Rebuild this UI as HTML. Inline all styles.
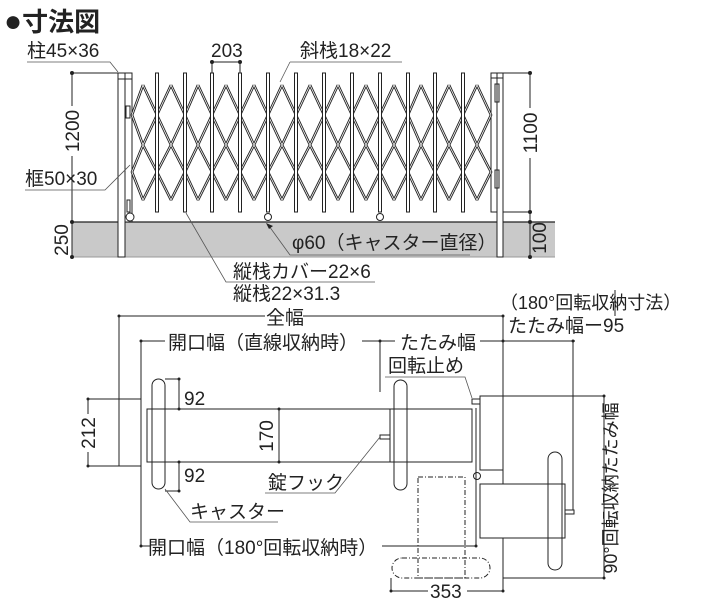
<!DOCTYPE html>
<html><head><meta charset="utf-8"><style>
body{margin:0;background:#fff}
svg{display:block}
text{font-family:"Liberation Sans","Noto Sans CJK JP",sans-serif;fill:#222;font-size:19px}
</style></head><body>
<svg width="720" height="607" viewBox="0 0 720 607" xmlns="http://www.w3.org/2000/svg">
<text x="4" y="31" style="font-size:26px;font-weight:bold"><tspan style="font-size:30px">●</tspan>寸法図</text>
<rect x="72" y="222" width="483" height="35" fill="#c9c9c9"/>
<line x1="72" y1="222" x2="555" y2="222" stroke="#222" stroke-width="1.2"/>
<line x1="72" y1="257" x2="555" y2="257" stroke="#999" stroke-width="1"/>
<g stroke="#222" fill="none" stroke-width="1">
<rect x="118" y="73" width="7" height="184" fill="#fff"/>
<rect x="125" y="73" width="7" height="149" fill="#fff"/>
<line x1="118" y1="79" x2="132" y2="79"/>
<rect x="126" y="106" width="4" height="12" fill="#fff"/>
<rect x="127" y="200" width="3" height="12"/>
<circle cx="130" cy="217" r="4" fill="#fff"/>
<rect x="491" y="73" width="6" height="139" fill="#fff"/>
<rect x="497" y="73" width="6" height="184" fill="#fff"/>
<line x1="491" y1="78" x2="503" y2="78"/>
<rect x="495" y="84" width="4" height="18"/>
<rect x="495" y="170" width="4" height="18"/>
</g>
<g stroke="#222" fill="none" stroke-width="2.6">
<path id="lat" d="M143,85 L132,115 L143,145 L132,172 L143,200 M143,85 L157,115 L143,145 L157,172 L143,200
M171,85 L157,115 L171,145 L157,172 L171,200 M171,85 L185,115 L171,145 L185,172 L171,200
M198,85 L185,115 L198,145 L185,172 L198,200 M198,85 L212,115 L198,145 L212,172 L198,200
M226,85 L212,115 L226,145 L212,172 L226,200 M226,85 L240,115 L226,145 L240,172 L226,200
M254,85 L240,115 L254,145 L240,172 L254,200 M254,85 L268,115 L254,145 L268,172 L254,200
M282,85 L268,115 L282,145 L268,172 L282,200 M282,85 L296,115 L282,145 L296,172 L282,200
M310,85 L296,115 L310,145 L296,172 L310,200 M310,85 L324,115 L310,145 L324,172 L310,200
M338,85 L324,115 L338,145 L324,172 L338,200 M338,85 L352,115 L338,145 L352,172 L338,200
M366,85 L352,115 L366,145 L352,172 L366,200 M366,85 L380,115 L366,145 L380,172 L366,200
M394,85 L380,115 L394,145 L380,172 L394,200 M394,85 L408,115 L394,145 L408,172 L394,200
M421,85 L408,115 L421,145 L408,172 L421,200 M421,85 L435,115 L421,145 L435,172 L421,200
M449,85 L435,115 L449,145 L435,172 L449,200 M449,85 L463,115 L449,145 L463,172 L449,200
M477,85 L463,115 L477,145 L463,172 L477,200 M477,85 L491,115 L477,145 L491,172 L477,200"/>
</g>
<use href="#lat" stroke="#fff" stroke-width="0.8" fill="none"/>
<g stroke="#222" fill="#fff" stroke-width="1">
<rect x="155.5" y="73" width="3" height="139"/><rect x="183.5" y="73" width="3" height="139"/>
<rect x="210.5" y="73" width="3" height="139"/><rect x="238.5" y="73" width="3" height="139"/>
<rect x="266.5" y="73" width="3" height="139"/><rect x="294.5" y="73" width="3" height="139"/>
<rect x="322.5" y="73" width="3" height="139"/><rect x="350.5" y="73" width="3" height="139"/>
<rect x="378.5" y="73" width="3" height="139"/><rect x="406.5" y="73" width="3" height="139"/>
<rect x="433.5" y="73" width="3" height="139"/><rect x="461.5" y="73" width="3" height="139"/>
<circle cx="268" cy="217" r="3.5"/><circle cx="380" cy="217" r="3.5"/>
</g>
<g stroke="#222" stroke-width="1" fill="#222">
<line x1="72" y1="73" x2="72" y2="106"/><line x1="72" y1="156" x2="72" y2="222"/>
<line x1="72" y1="73" x2="118" y2="73"/>
<line x1="72" y1="222" x2="72" y2="257"/>
<circle cx="72" cy="73" r="1.5"/><circle cx="72" cy="222" r="1.5"/><circle cx="72" cy="257" r="1.5"/>
<line x1="212" y1="62" x2="240" y2="62"/><line x1="212" y1="62" x2="212" y2="73"/><line x1="240" y1="62" x2="240" y2="73"/>
<circle cx="212" cy="62" r="1.5"/><circle cx="240" cy="62" r="1.5"/>
<line x1="503" y1="73" x2="530" y2="73"/><line x1="503" y1="212" x2="530" y2="212"/>
<line x1="530" y1="73" x2="530" y2="108"/><line x1="530" y1="158" x2="530" y2="257"/>
<circle cx="530" cy="73" r="1.5"/><circle cx="530" cy="212" r="1.5"/><circle cx="530" cy="222" r="1.5"/><circle cx="530" cy="257" r="1.5"/>
</g>
<g stroke="#555" stroke-width="0.8" fill="none">
<polyline points="27,62 110,62 118,72"/>
<polyline points="25,190 105,190 130,165"/>
<polyline points="290,62 402,62"/>
<path d="M290,62 L280,82"/>
<polyline points="186,213 226,282 375,282"/>
<polyline points="269,226 290,255 470,255"/>
</g>
<path d="M266,223 l7,3 -4,3z" fill="#222"/>
<text x="27" y="57">柱45×36</text>
<text x="211" y="57">203</text>
<text x="300" y="57">斜栈18×22</text>
<text x="25" y="185">框50×30</text>
<text x="292" y="249">φ60（キャスター直径）</text>
<text x="233" y="278">縦栈カバー22×6</text>
<text x="233" y="300">縦栈22×31.3</text>
<text transform="translate(79,131) rotate(-90)" text-anchor="middle">1200</text>
<text transform="translate(68,240) rotate(-90)" text-anchor="middle">250</text>
<text transform="translate(537,133) rotate(-90)" text-anchor="middle">1100</text>
<text transform="translate(546,238) rotate(-90)" text-anchor="middle">100</text>

<g stroke="#222" stroke-width="1" fill="none">
<line x1="119" y1="316" x2="265" y2="316"/><line x1="303" y1="316" x2="503" y2="316"/>
<line x1="119" y1="316" x2="119" y2="399"/>
<line x1="141" y1="341" x2="165" y2="341"/><line x1="362" y1="341" x2="380" y2="341"/>
<line x1="380" y1="341" x2="395" y2="341"/><line x1="480" y1="341" x2="575" y2="341"/>
<line x1="380" y1="341" x2="380" y2="392"/>
<line x1="141" y1="341" x2="141" y2="546"/>
<line x1="141" y1="546" x2="150" y2="546"/><line x1="382" y1="546" x2="476" y2="546"/>
<line x1="503" y1="316" x2="503" y2="396"/><line x1="503" y1="470" x2="503" y2="591"/>
<line x1="573" y1="341" x2="573" y2="510"/>
<line x1="615" y1="290" x2="615" y2="316"/>
<rect x="119" y="399" width="22" height="67"/>
<line x1="88" y1="399" x2="119" y2="399"/><line x1="88" y1="466" x2="119" y2="466"/>
<line x1="88" y1="399" x2="88" y2="414"/><line x1="88" y1="452" x2="88" y2="466"/>
<rect x="147" y="409" width="325" height="53" fill="#fff"/>
<rect x="152" y="379" width="13" height="110" rx="6.5"/>
<rect x="394" y="380" width="13" height="110" rx="6.5"/>
<line x1="390" y1="409" x2="390" y2="462"/>
<line x1="165" y1="379" x2="179" y2="379"/><line x1="165" y1="491" x2="179" y2="491"/>
<line x1="179" y1="379" x2="179" y2="409"/><line x1="179" y1="462" x2="179" y2="491"/>
<line x1="279" y1="409" x2="279" y2="462"/>
<rect x="380" y="435" width="10" height="4"/>
<rect x="480" y="396" width="23" height="74"/>
<rect x="472" y="399" width="8" height="5"/>
<line x1="476" y1="408" x2="476" y2="546"/>
<circle cx="477" cy="476" r="3.5"/>
<rect x="480" y="484" width="85" height="54" fill="#fff"/>
<rect x="548" y="452" width="14" height="118" rx="7"/>
<rect x="565" y="510" width="9" height="4"/>
<line x1="503" y1="396" x2="604" y2="396"/><line x1="503" y1="578" x2="604" y2="578"/>
<line x1="604" y1="396" x2="604" y2="578"/>
<g stroke-dasharray="5,2,1,2">
<rect x="418" y="477" width="47" height="101"/>
<rect x="392" y="558" width="98" height="20" rx="10"/>
</g>
<line x1="391" y1="578" x2="391" y2="591"/>
<line x1="391" y1="591" x2="428" y2="591"/><line x1="467" y1="591" x2="503" y2="591"/>
</g>
<g fill="#222">
<circle cx="119" cy="316" r="1.5"/><circle cx="503" cy="316" r="1.5"/><circle cx="141" cy="341" r="1.5"/>
<circle cx="380" cy="341" r="1.5"/><circle cx="503" cy="341" r="1.5"/><circle cx="573" cy="341" r="1.5"/>
<circle cx="141" cy="546" r="1.5"/><circle cx="476" cy="546" r="1.5"/>
<circle cx="88" cy="399" r="1.5"/><circle cx="88" cy="466" r="1.5"/>
<circle cx="179" cy="379" r="1.5"/><circle cx="179" cy="409" r="1.5"/><circle cx="179" cy="462" r="1.5"/><circle cx="179" cy="491" r="1.5"/>
<circle cx="279" cy="409" r="1.5"/><circle cx="279" cy="462" r="1.5"/>
<circle cx="604" cy="396" r="1.5"/><circle cx="604" cy="578" r="1.5"/>
<circle cx="391" cy="591" r="1.5"/><circle cx="503" cy="591" r="1.5"/>
</g>
<g stroke="#555" stroke-width="0.8" fill="none">
<polyline points="265,493 335,493 380,437"/>
<polyline points="165,489 190,522 278,522"/>
<polyline points="385,377 465,377 472,398"/>
</g>
<text x="266" y="324">全幅</text>
<text x="168" y="349">開口幅（直線収納時）</text>
<text x="400" y="349">たたみ幅</text>
<text x="388" y="372">回転止め</text>
<text x="500" y="309" style="font-size:18px">（180°回転収納寸法）</text>
<text x="508" y="332">たたみ幅ー95</text>
<text x="184" y="405">92</text>
<text x="184" y="482">92</text>
<text transform="translate(273,436) rotate(-90)" text-anchor="middle">170</text>
<text transform="translate(95,433) rotate(-90)" text-anchor="middle">212</text>
<text x="268" y="489">錠フック</text>
<text x="190" y="518">キャスター</text>
<text x="148" y="554">開口幅（180°回転収納時）</text>
<text x="430" y="598">353</text>
<text transform="translate(617,488) rotate(-90)" text-anchor="middle" style="font-size:18px">90°回転収納たたみ幅</text>
</svg>
</body></html>
